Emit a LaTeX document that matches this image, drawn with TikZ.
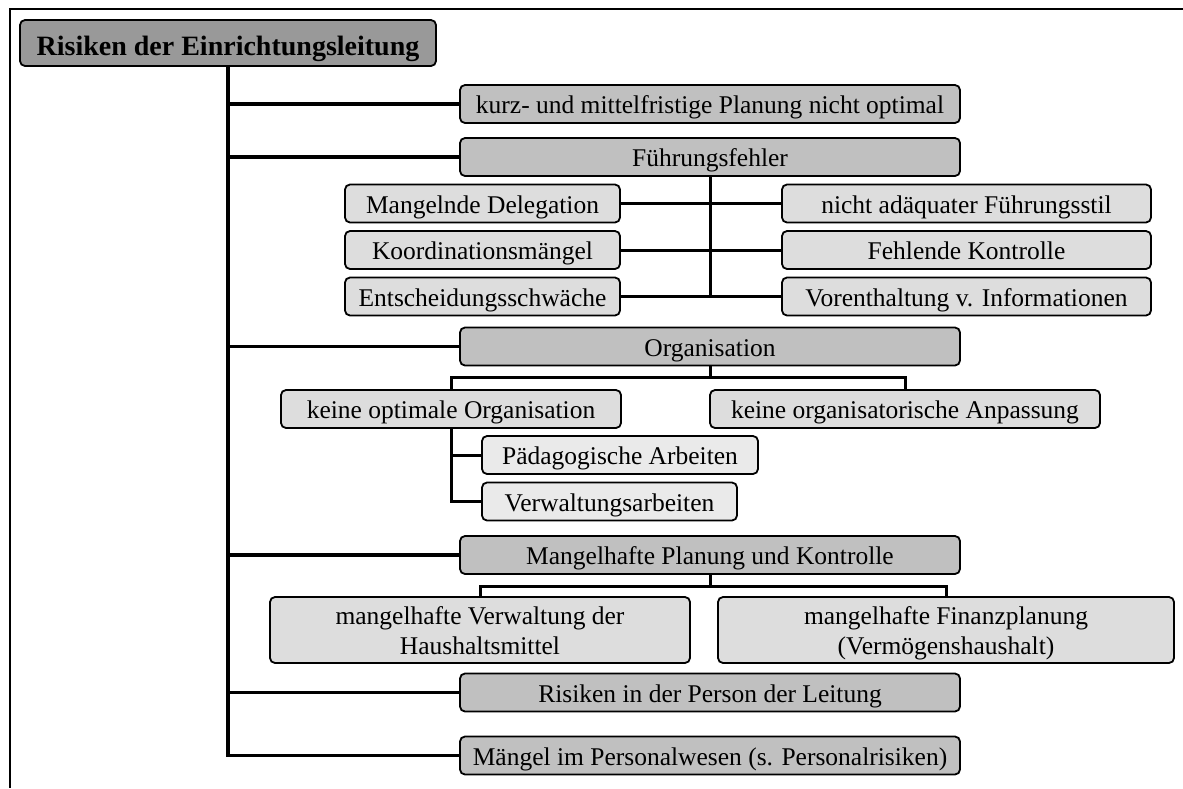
\documentclass[tikz,border=0pt]{standalone}
\usepackage{fontspec}
\setmainfont{Liberation Serif}
\usepackage{xcolor}
\definecolor{boxdark}{HTML}{999999}
\definecolor{boxmid}{HTML}{C0C0C0}
\definecolor{boxlight}{HTML}{DDDDDD}
\definecolor{boxpale}{HTML}{EAEAEA}
\tikzset{
  riskbox/.style={draw, line width=0.9pt, rounded corners=2.5pt, inner sep=0pt,
    minimum height=19pt, text height=9.5pt, text depth=0pt, align=center,
    font=\fontsize{12.75}{15}\selectfont},
  topbox/.style={riskbox, fill=boxdark, minimum height=23pt, text height=12pt,
    font=\fontsize{14}{16}\selectfont\bfseries},
  mainbox/.style={riskbox, fill=boxmid, minimum width=250pt},
  subbox/.style={riskbox, fill=boxlight},
  leafbox/.style={riskbox, fill=boxpale},
  twoline/.style={minimum height=33pt, text height=24.5pt},
  mainline/.style={line width=1.8pt},
  subline/.style={line width=1.5pt},
}

\begin{document}
\begin{tikzpicture}[x=0.5pt, y=-0.5pt]
    \useasboundingbox (0,0) rectangle (1183,788);
    % Page frame
    \draw[line width=1.35pt] (1183,9) -- (10,9) -- (10,788);
    % Boxes
    \node[topbox, minimum width=208pt] (leitung) at (228,43) {Risiken der Einrichtungsleitung};
    \node[mainbox] (planung) at (710,104) {kurz- und mittelfristige Planung nicht optimal};
    \node[mainbox] (fuehrung) at (710,157) {Führungsfehler};
    \node[subbox, minimum width=137.5pt] (delegation) at (482.5,203.5) {Mangelnde Delegation};
    \node[subbox, minimum width=137.5pt] (koordination) at (482.5,250) {Koordinationsmängel};
    \node[subbox, minimum width=137.5pt] (entscheidung) at (482.5,296.5) {Entscheidungsschwäche};
    \node[subbox, minimum width=184.5pt] (stil) at (966.5,203.5) {nicht adäquater Führungsstil};
    \node[subbox, minimum width=184.5pt] (kontrolle) at (966.5,250) {Fehlende Kontrolle};
    \node[subbox, minimum width=184.5pt] (vorenthaltung) at (966.5,296.5) {Vorenthaltung v. Informationen};
    \node[mainbox] (organisation) at (710,346.5) {Organisation};
    \node[subbox, minimum width=170pt] (optimal) at (451,409) {keine optimale Organisation};
    \node[subbox, minimum width=195pt] (anpassung) at (905,409) {keine organisatorische Anpassung};
    \node[leafbox, minimum width=138pt] (paedagogik) at (620,455) {Pädagogische Arbeiten};
    \node[leafbox, minimum width=127.5pt] (verwaltung) at (609.5,501.5) {Verwaltungsarbeiten};
    \node[mainbox] (kontrollplan) at (710,555) {Mangelhafte Planung und Kontrolle};
    \node[subbox, twoline, minimum width=210pt] (haushalt) at (480,630)
         {mangelhafte Verwaltung der\\Haushaltsmittel};
    \node[subbox, twoline, minimum width=228pt] (finanz) at (946,630)
         {mangelhafte Finanzplanung\\(Vermögenshaushalt)};
    \node[mainbox] (person) at (710,692.5) {Risiken in der Person der Leitung};
    \node[mainbox] (personal) at (710,755.5) {Mängel im Personalwesen (s. Personalrisiken)};
    % Trunk and main branches
    \draw[mainline] (leitung.south) |- (personal.west);
    \foreach \b in {planung,fuehrung,organisation,kontrollplan,person}
        \draw[mainline] (leitung.south |- \b.west) -- (\b.west);
    % Fuehrungsfehler
    \draw[subline] (fuehrung.south) -- (fuehrung.south |- entscheidung.east);
    \draw[subline] (delegation.east) -- (stil.west);
    \draw[subline] (koordination.east) -- (kontrolle.west);
    \draw[subline] (entscheidung.east) -- (vorenthaltung.west);
    % Organisation
    \coordinate (orgabar) at ([yshift=6pt]optimal.north);
    \draw[subline] (organisation.south) -- (organisation.south |- orgabar);
    \draw[subline] (optimal.north) -- (orgabar) -| (anpassung.north);
    \draw[subline] (optimal.south) |- (verwaltung.west);
    \draw[subline] (optimal.south |- paedagogik.west) -- (paedagogik.west);
    % Planung und Kontrolle
    \coordinate (planbar) at ([yshift=5pt]haushalt.north);
    \draw[subline] (kontrollplan.south) -- (kontrollplan.south |- planbar);
    \draw[subline] (haushalt.north) -- (planbar) -| (finanz.north);
\end{tikzpicture}
\end{document}
